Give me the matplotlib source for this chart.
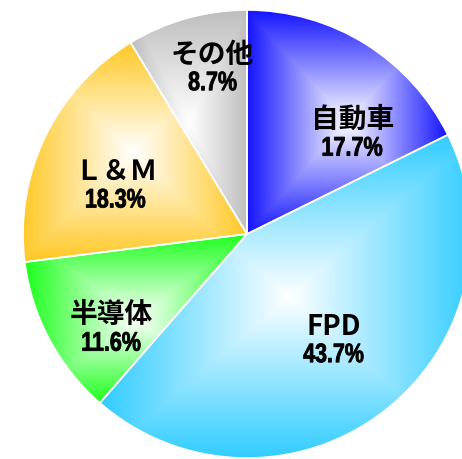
import numpy as np
import matplotlib.pyplot as plt
from matplotlib.colors import to_rgb
from matplotlib.textpath import TextPath
from matplotlib.patches import PathPatch
from matplotlib.font_manager import FontProperties
from matplotlib.transforms import Affine2D

plt.rcParams['font.family'] = ['Noto Sans CJK JP', 'DejaVu Sans']

categories = ["自動車", "FPD", "半導体", "Ｌ＆Ｍ", "その他"]
shares = [17.7, 43.7, 11.6, 18.3, 8.7]
colors = ["#1414FF", "#30CCFF", "#1EFF1E", "#FFC824", "#BEBEBE"]

# label placement (radius fraction, angle in degrees)
label_pos = [(0.66, 44.5), (0.60, -50), (0.73, -146), (0.63, 158.5), (0.77, 101.5)]

W, H = 462, 459
cx, cy, R = 247, 234, 224

fig = plt.figure(figsize=(W / 100, H / 100), dpi=100)
ax = fig.add_axes([0, 0, 1, 1])

wedges, _ = ax.pie(shares, startangle=90, counterclock=False, radius=1,
                   colors=["none"] * len(shares),
                   wedgeprops=dict(edgecolor="white", linewidth=1.2))

for w, c in zip(wedges, colors):
    verts = w.get_patch_transform().transform(w.get_path().vertices)
    x0, y0 = verts.min(axis=0)
    x1, y1 = verts.max(axis=0)
    n = 200
    xs = np.linspace(-1, 1, n)
    X, Y = np.meshgrid(xs, xs)
    t = np.clip(np.maximum(np.abs(X), np.abs(Y)), 0, 1)
    rgb = np.array(to_rgb(c))
    img = (1 - t)[..., None] * np.ones(3) + t[..., None] * rgb
    im = ax.imshow(img, extent=(x0, x1, y0, y1), origin="lower",
                   interpolation="bilinear", zorder=0.5)
    im.set_clip_path(w)

ax.set_xlim(-cx / R, (W - cx) / R)
ax.set_ylim(-(H - cy) / R, cy / R)
ax.set_aspect("auto")
ax.axis("off")

# narrow bold digits, drawn as paths squeezed horizontally
num_prop = FontProperties(family="Liberation Sans", weight="bold")

def narrow_text(s, px, py, ink_h=19, sx=0.8):
    tp = TextPath((0, 0), s, size=10, prop=num_prop)
    bb = tp.get_extents()
    k = ink_h / bb.height
    tr = (Affine2D().translate(-(bb.x0 + bb.x1) / 2, -(bb.y0 + bb.y1) / 2)
          .scale(sx * k, k).translate(px, py))
    fig.add_artist(PathPatch(tp, transform=tr, facecolor="black",
                             edgecolor="black", linewidth=0.6, zorder=5))

for name, val, (r, a) in zip(categories, shares, label_pos):
    x = r * np.cos(np.radians(a))
    y = r * np.sin(np.radians(a))
    ax.annotate(name, (x, y), xytext=(0, 7.5), textcoords="offset points",
                ha="center", va="center", fontsize=20, fontweight="bold",
                zorder=5)
    px, py = ax.transData.transform((x, y))
    narrow_text(f"{val:.1f}%", px, py - 16)

fig.savefig("out.png", dpi=100)
